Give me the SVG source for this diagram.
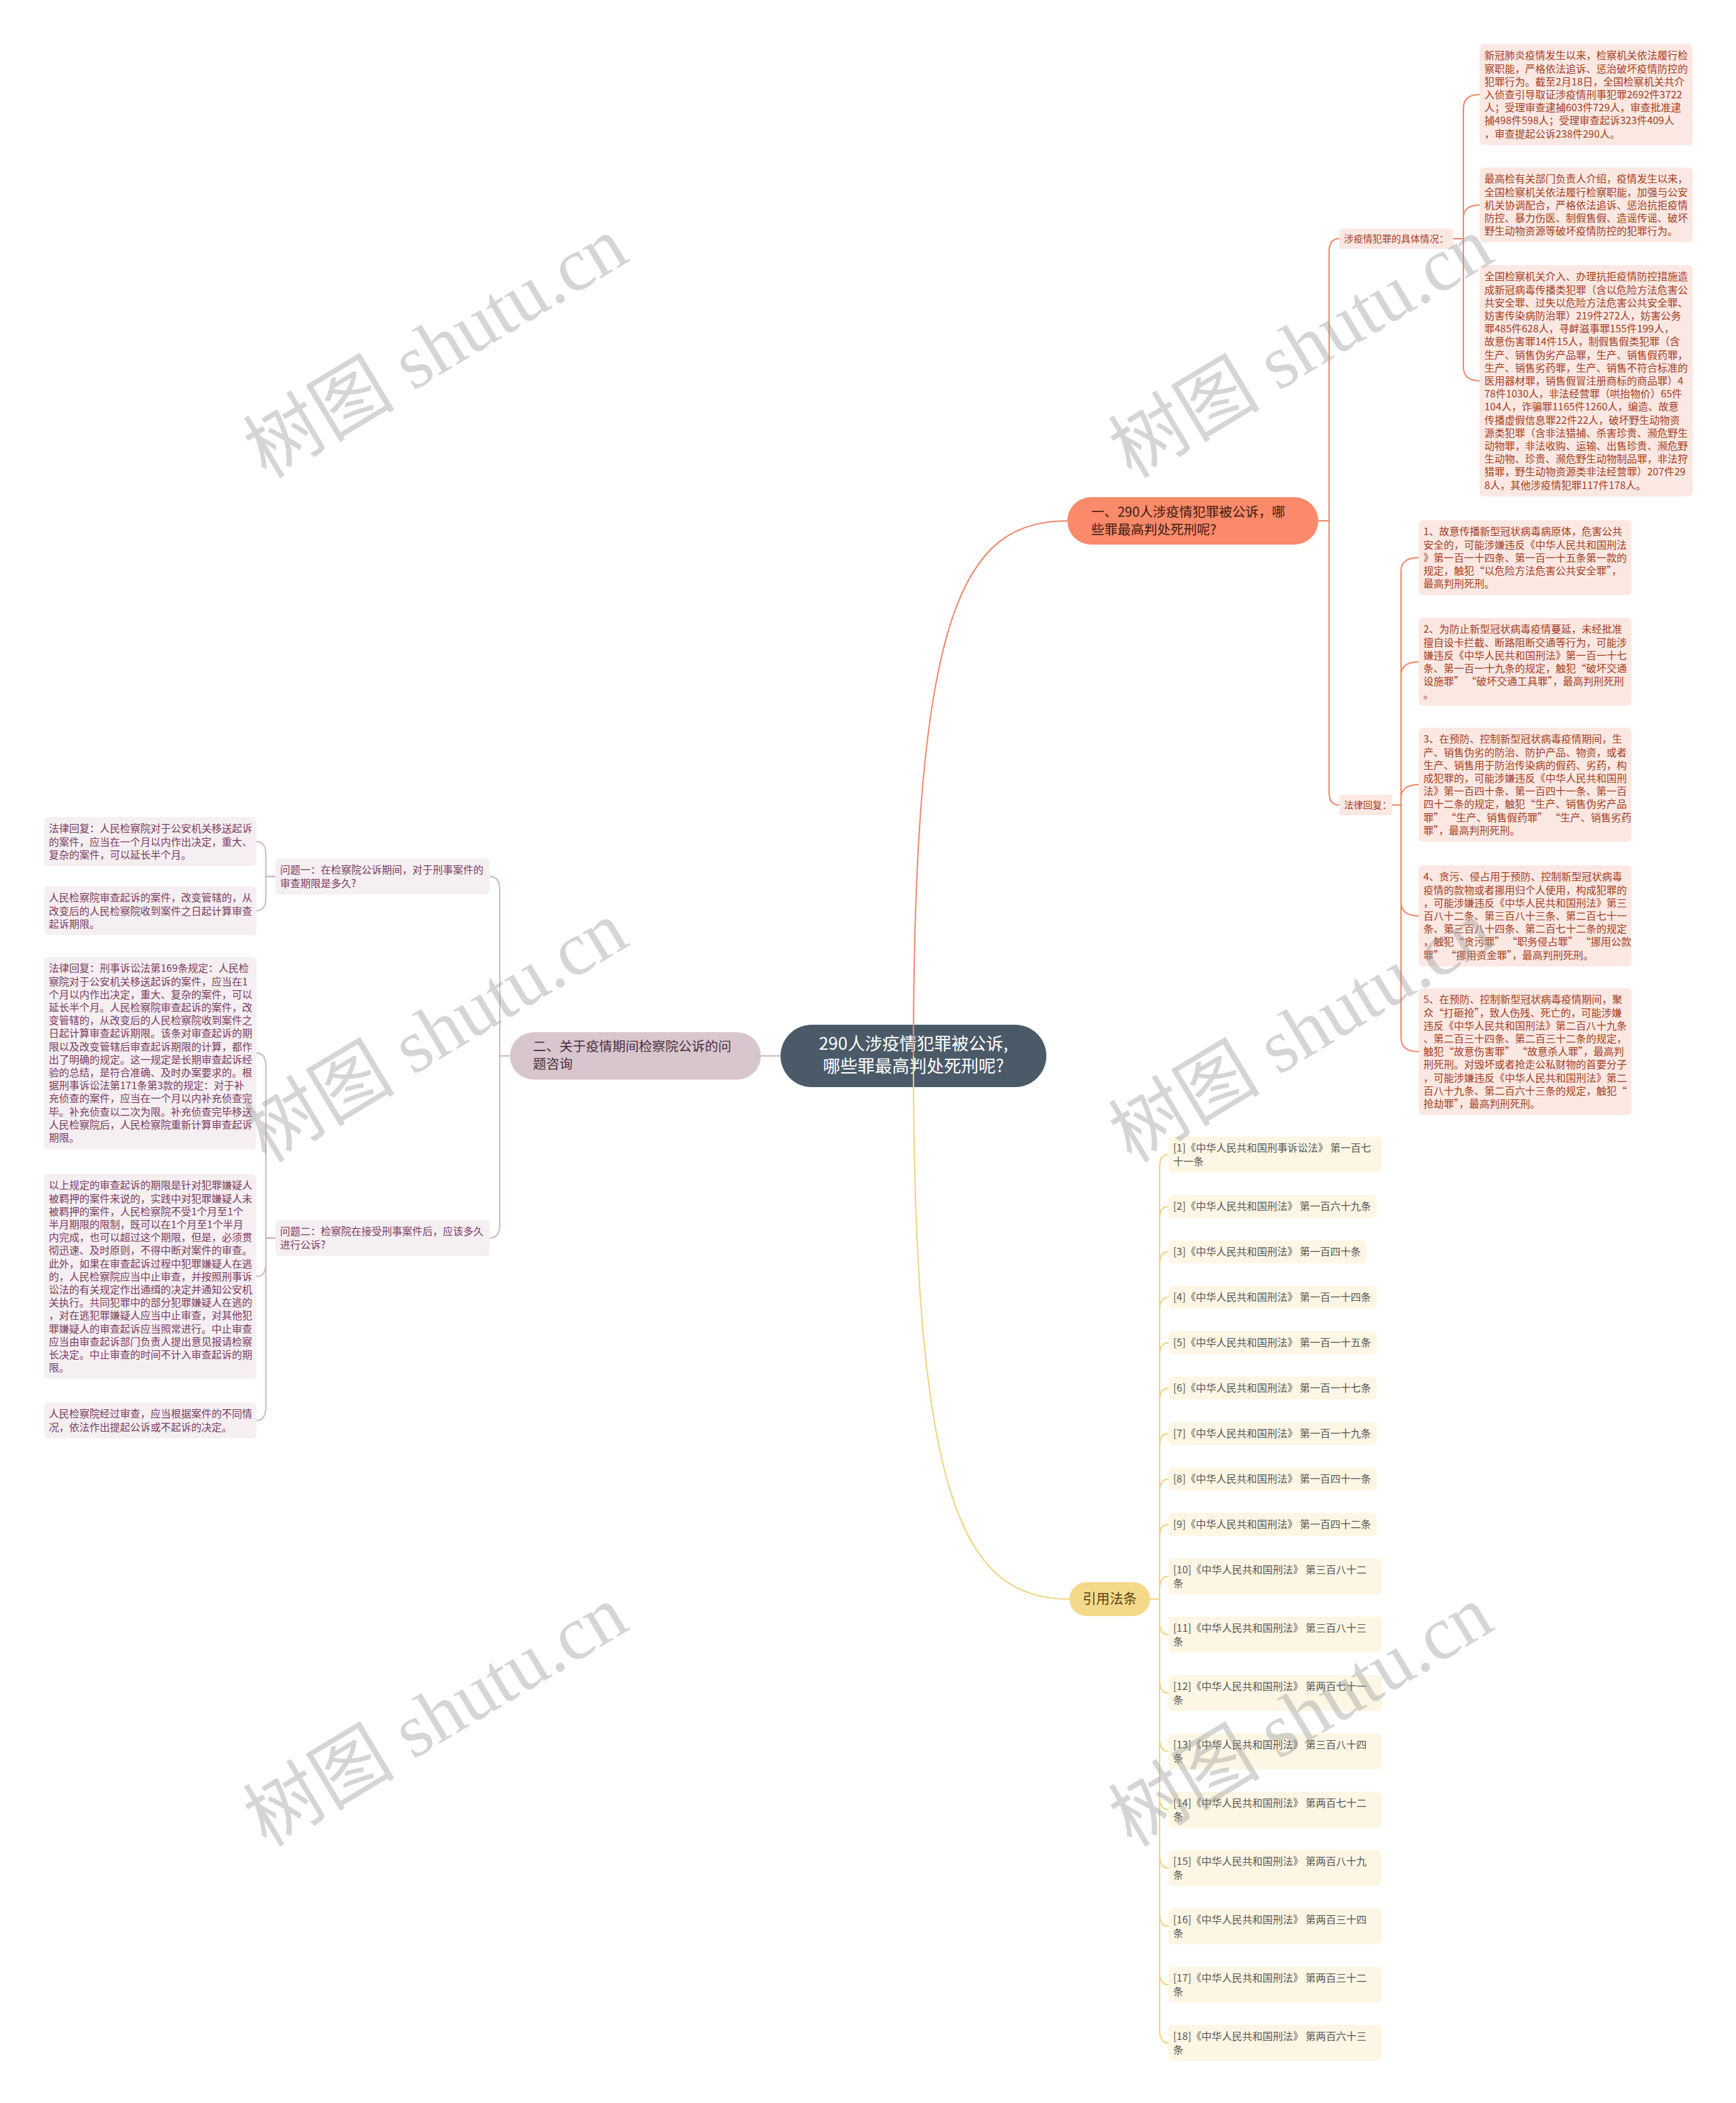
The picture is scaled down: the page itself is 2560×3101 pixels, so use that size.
<svg xmlns="http://www.w3.org/2000/svg" width="2560" height="3101" viewBox="0 0 2560 3101">
<style>
text { font-family: "Noto Sans CJK SC", "Liberation Sans", sans-serif; }
.t15 { font-size: 15px; }
.t14 { font-size: 14px; }
.rb { fill: #fce8e3; }
.rt { fill: #a33d22; }
.lb { fill: #f6eff2; }
.lt { fill: #7a3a5e; }
.yb { fill: #fdf6e4; }
.yt { fill: #555555; }
.co { fill: none; stroke: #ee8a6c; stroke-width: 2; }
.cl { fill: none; stroke: #cfbac5; stroke-width: 2; }
.cy { fill: none; stroke: #f1d47e; stroke-width: 2; }
.wm text { font-family: "Liberation Serif", "Noto Sans CJK SC", serif; font-size: 112px; fill: #9a9a9a; fill-opacity: 0.42; }
</style>
<rect width="2560" height="3101" fill="#ffffff"/>

<!-- root -->
<g id="root">
<rect x="1151" y="1511" width="392" height="92" rx="46" fill="#4b5a68"/>
<text x="1347" y="1548" font-size="25.5" fill="#ffffff" text-anchor="middle">290人涉疫情犯罪被公诉,</text>
<text x="1347" y="1581" font-size="25.5" fill="#ffffff" text-anchor="middle">哪些罪最高判处死刑呢?</text>
</g>

<!-- branch 1 -->
<g id="b1">
<rect x="1574" y="733" width="370" height="70" rx="35" fill="#fa8a6a"/>
<text x="1609" y="762" font-size="19.5" fill="#3d1a10">一、290人涉疫情犯罪被公诉，哪</text>
<text x="1609" y="788" font-size="19.5" fill="#3d1a10">些罪最高判处死刑呢?</text>
</g>
<g id="b1-label1">
<rect class="rb" x="1975" y="337" width="168" height="30" rx="4"/>
<text class="t14 rt" x="1982" y="357">涉疫情犯罪的具体情况：</text>
</g>
<g id="b1-label2">
<rect class="rb" x="1975" y="1172" width="78" height="30" rx="4"/>
<text class="t14 rt" x="1982" y="1192">法律回复：</text>
</g>
<g id="b1-a">
<rect class="rb" x="2182" y="65" width="314" height="148.9" rx="6"/>
<text class="t15 rt" y="87.3"><tspan x="2189">新冠肺炎疫情发生以来，检察机关依法履行检</tspan><tspan x="2189" dy="19.2">察职能，严格依法追诉、惩治破坏疫情防控的</tspan><tspan x="2189" dy="19.2">犯罪行为。截至2月18日，全国检察机关共介</tspan><tspan x="2189" dy="19.2">入侦查引导取证涉疫情刑事犯罪2692件3722</tspan><tspan x="2189" dy="19.2">人；受理审查逮捕603件729人，审查批准逮</tspan><tspan x="2189" dy="19.2">捕498件598人；受理审查起诉323件409人</tspan><tspan x="2189" dy="19.2">，审查提起公诉238件290人。</tspan></text>
</g>
<g id="b1-b">
<rect class="rb" x="2182" y="247" width="314" height="110.5" rx="6"/>
<text class="t15 rt" y="269.3"><tspan x="2189">最高检有关部门负责人介绍，疫情发生以来，</tspan><tspan x="2189" dy="19.2">全国检察机关依法履行检察职能，加强与公安</tspan><tspan x="2189" dy="19.2">机关协调配合，严格依法追诉、惩治抗拒疫情</tspan><tspan x="2189" dy="19.2">防控、暴力伤医、制假售假、造谣传谣、破坏</tspan><tspan x="2189" dy="19.2">野生动物资源等破坏疫情防控的犯罪行为。</tspan></text>
</g>
<g id="b1-c">
<rect class="rb" x="2182" y="391" width="314" height="340.9" rx="6"/>
<text class="t15 rt" y="413.3"><tspan x="2189">全国检察机关介入、办理抗拒疫情防控措施造</tspan><tspan x="2189" dy="19.2">成新冠病毒传播类犯罪（含以危险方法危害公</tspan><tspan x="2189" dy="19.2">共安全罪、过失以危险方法危害公共安全罪、</tspan><tspan x="2189" dy="19.2">妨害传染病防治罪）219件272人，妨害公务</tspan><tspan x="2189" dy="19.2">罪485件628人，寻衅滋事罪155件199人，</tspan><tspan x="2189" dy="19.2">故意伤害罪14件15人，制假售假类犯罪（含</tspan><tspan x="2189" dy="19.2">生产、销售伪劣产品罪，生产、销售假药罪，</tspan><tspan x="2189" dy="19.2">生产、销售劣药罪，生产、销售不符合标准的</tspan><tspan x="2189" dy="19.2">医用器材罪，销售假冒注册商标的商品罪）4</tspan><tspan x="2189" dy="19.2">78件1030人，非法经营罪（哄抬物价）65件</tspan><tspan x="2189" dy="19.2">104人，诈骗罪1165件1260人，编造、故意</tspan><tspan x="2189" dy="19.2">传播虚假信息罪22件22人，破坏野生动物资</tspan><tspan x="2189" dy="19.2">源类犯罪（含非法猎捕、杀害珍贵、濒危野生</tspan><tspan x="2189" dy="19.2">动物罪，非法收购、运输、出售珍贵、濒危野</tspan><tspan x="2189" dy="19.2">生动物、珍贵、濒危野生动物制品罪，非法狩</tspan><tspan x="2189" dy="19.2">猎罪，野生动物资源类非法经营罪）207件29</tspan><tspan x="2189" dy="19.2">8人，其他涉疫情犯罪117件178人。</tspan></text>
</g>
<g id="b1-l1">
<rect class="rb" x="2092" y="767" width="314" height="110.5" rx="6"/>
<text class="t15 rt" y="789.3"><tspan x="2099">1、故意传播新型冠状病毒病原体，危害公共</tspan><tspan x="2099" dy="19.2">安全的，可能涉嫌违反《中华人民共和国刑法</tspan><tspan x="2099" dy="19.2">》第一百一十四条、第一百一十五条第一款的</tspan><tspan x="2099" dy="19.2">规定，触犯“以危险方法危害公共安全罪”，</tspan><tspan x="2099" dy="19.2">最高判刑死刑。</tspan></text>
</g>
<g id="b1-l2">
<rect class="rb" x="2092" y="911" width="314" height="129.7" rx="6"/>
<text class="t15 rt" y="933.3"><tspan x="2099">2、为防止新型冠状病毒疫情蔓延，未经批准</tspan><tspan x="2099" dy="19.2">擅自设卡拦截、断路阻断交通等行为，可能涉</tspan><tspan x="2099" dy="19.2">嫌违反《中华人民共和国刑法》第一百一十七</tspan><tspan x="2099" dy="19.2">条、第一百一十九条的规定，触犯“破坏交通</tspan><tspan x="2099" dy="19.2">设施罪” “破坏交通工具罪”，最高判刑死刑</tspan><tspan x="2099" dy="19.2">。</tspan></text>
</g>
<g id="b1-l3">
<rect class="rb" x="2092" y="1073" width="314" height="168.1" rx="6"/>
<text class="t15 rt" y="1095.3"><tspan x="2099">3、在预防、控制新型冠状病毒疫情期间，生</tspan><tspan x="2099" dy="19.2">产、销售伪劣的防治、防护产品、物资，或者</tspan><tspan x="2099" dy="19.2">生产、销售用于防治传染病的假药、劣药，构</tspan><tspan x="2099" dy="19.2">成犯罪的，可能涉嫌违反《中华人民共和国刑</tspan><tspan x="2099" dy="19.2">法》第一百四十条、第一百四十一条、第一百</tspan><tspan x="2099" dy="19.2">四十二条的规定，触犯“生产、销售伪劣产品</tspan><tspan x="2099" dy="19.2">罪” “生产、销售假药罪” “生产、销售劣药</tspan><tspan x="2099" dy="19.2">罪”，最高判刑死刑。</tspan></text>
</g>
<g id="b1-l4">
<rect class="rb" x="2092" y="1276" width="314" height="148.9" rx="6"/>
<text class="t15 rt" y="1298.3"><tspan x="2099">4、贪污、侵占用于预防、控制新型冠状病毒</tspan><tspan x="2099" dy="19.2">疫情的款物或者挪用归个人使用，构成犯罪的</tspan><tspan x="2099" dy="19.2">，可能涉嫌违反《中华人民共和国刑法》第三</tspan><tspan x="2099" dy="19.2">百八十二条、第三百八十三条、第二百七十一</tspan><tspan x="2099" dy="19.2">条、第三百八十四条、第二百七十二条的规定</tspan><tspan x="2099" dy="19.2">，触犯“贪污罪” “职务侵占罪” “挪用公款</tspan><tspan x="2099" dy="19.2">罪” “挪用资金罪”，最高判刑死刑。</tspan></text>
</g>
<g id="b1-l5">
<rect class="rb" x="2092" y="1457" width="314" height="187.3" rx="6"/>
<text class="t15 rt" y="1479.3"><tspan x="2099">5、在预防、控制新型冠状病毒疫情期间，聚</tspan><tspan x="2099" dy="19.2">众“打砸抢”，致人伤残、死亡的，可能涉嫌</tspan><tspan x="2099" dy="19.2">违反《中华人民共和国刑法》第二百八十九条</tspan><tspan x="2099" dy="19.2">、第二百三十四条、第二百三十二条的规定，</tspan><tspan x="2099" dy="19.2">触犯“故意伤害罪” “故意杀人罪”，最高判</tspan><tspan x="2099" dy="19.2">刑死刑。对毁坏或者抢走公私财物的首要分子</tspan><tspan x="2099" dy="19.2">，可能涉嫌违反《中华人民共和国刑法》第二</tspan><tspan x="2099" dy="19.2">百八十九条、第二百六十三条的规定，触犯“</tspan><tspan x="2099" dy="19.2">抢劫罪”，最高判刑死刑。</tspan></text>
</g>

<!-- branch 2 -->
<g id="b2">
<rect x="752" y="1522" width="370" height="70" rx="35" fill="#d8c6cf"/>
<text x="786" y="1550" font-size="19.5" fill="#4a2f3e">二、关于疫情期间检察院公诉的问</text>
<text x="786" y="1576" font-size="19.5" fill="#4a2f3e">题咨询</text>
</g>
<g id="b2-q1">
<rect class="lb" x="406" y="1266" width="316" height="52.9" rx="6"/>
<text class="t15 lt" y="1288.3"><tspan x="413">问题一：在检察院公诉期间，对于刑事案件的</tspan><tspan x="413" dy="19.2">审查期限是多久?</tspan></text>
</g>
<g id="b2-q2">
<rect class="lb" x="406" y="1799" width="316" height="52.9" rx="6"/>
<text class="t15 lt" y="1821.3"><tspan x="413">问题二：检察院在接受刑事案件后，应该多久</tspan><tspan x="413" dy="19.2">进行公诉?</tspan></text>
</g>
<g id="b2-a1">
<rect class="lb" x="65" y="1205" width="313" height="72.1" rx="6"/>
<text class="t15 lt" y="1227.3"><tspan x="72">法律回复：人民检察院对于公安机关移送起诉</tspan><tspan x="72" dy="19.2">的案件，应当在一个月以内作出决定，重大、</tspan><tspan x="72" dy="19.2">复杂的案件，可以延长半个月。</tspan></text>
</g>
<g id="b2-a2">
<rect class="lb" x="65" y="1307" width="313" height="72.1" rx="6"/>
<text class="t15 lt" y="1329.3"><tspan x="72">人民检察院审查起诉的案件，改变管辖的，从</tspan><tspan x="72" dy="19.2">改变后的人民检察院收到案件之日起计算审查</tspan><tspan x="72" dy="19.2">起诉期限。</tspan></text>
</g>
<g id="b2-a3">
<rect class="lb" x="65" y="1411" width="313" height="283.3" rx="6"/>
<text class="t15 lt" y="1433.3"><tspan x="72">法律回复：刑事诉讼法第169条规定：人民检</tspan><tspan x="72" dy="19.2">察院对于公安机关移送起诉的案件，应当在1</tspan><tspan x="72" dy="19.2">个月以内作出决定，重大、复杂的案件，可以</tspan><tspan x="72" dy="19.2">延长半个月。人民检察院审查起诉的案件，改</tspan><tspan x="72" dy="19.2">变管辖的，从改变后的人民检察院收到案件之</tspan><tspan x="72" dy="19.2">日起计算审查起诉期限。该条对审查起诉的期</tspan><tspan x="72" dy="19.2">限以及改变管辖后审查起诉期限的计算，都作</tspan><tspan x="72" dy="19.2">出了明确的规定。这一规定是长期审查起诉经</tspan><tspan x="72" dy="19.2">验的总结，是符合准确、及时办案要求的。根</tspan><tspan x="72" dy="19.2">据刑事诉讼法第171条第3款的规定：对于补</tspan><tspan x="72" dy="19.2">充侦查的案件，应当在一个月以内补充侦查完</tspan><tspan x="72" dy="19.2">毕。补充侦查以二次为限。补充侦查完毕移送</tspan><tspan x="72" dy="19.2">人民检察院后，人民检察院重新计算审查起诉</tspan><tspan x="72" dy="19.2">期限。</tspan></text>
</g>
<g id="b2-a4">
<rect class="lb" x="65" y="1731" width="313" height="302.5" rx="6"/>
<text class="t15 lt" y="1753.3"><tspan x="72">以上规定的审查起诉的期限是针对犯罪嫌疑人</tspan><tspan x="72" dy="19.2">被羁押的案件来说的，实践中对犯罪嫌疑人未</tspan><tspan x="72" dy="19.2">被羁押的案件，人民检察院不受1个月至1个</tspan><tspan x="72" dy="19.2">半月期限的限制，既可以在1个月至1个半月</tspan><tspan x="72" dy="19.2">内完成，也可以超过这个期限，但是，必须贯</tspan><tspan x="72" dy="19.2">彻迅速、及时原则，不得中断对案件的审查。</tspan><tspan x="72" dy="19.2">此外，如果在审查起诉过程中犯罪嫌疑人在逃</tspan><tspan x="72" dy="19.2">的，人民检察院应当中止审查，并按照刑事诉</tspan><tspan x="72" dy="19.2">讼法的有关规定作出通缉的决定并通知公安机</tspan><tspan x="72" dy="19.2">关执行。共同犯罪中的部分犯罪嫌疑人在逃的</tspan><tspan x="72" dy="19.2">，对在逃犯罪嫌疑人应当中止审查，对其他犯</tspan><tspan x="72" dy="19.2">罪嫌疑人的审查起诉应当照常进行。中止审查</tspan><tspan x="72" dy="19.2">应当由审查起诉部门负责人提出意见报请检察</tspan><tspan x="72" dy="19.2">长决定。中止审查的时间不计入审查起诉的期</tspan><tspan x="72" dy="19.2">限。</tspan></text>
</g>
<g id="b2-a5">
<rect class="lb" x="65" y="2068" width="313" height="52.9" rx="6"/>
<text class="t15 lt" y="2090.3"><tspan x="72">人民检察院经过审查，应当根据案件的不同情</tspan><tspan x="72" dy="19.2">况，依法作出提起公诉或不起诉的决定。</tspan></text>
</g>

<!-- branch 3 -->
<g id="b3">
<rect x="1577" y="2333" width="119" height="50" rx="25" fill="#f5d98a"/>
<text x="1636.5" y="2365" font-size="20" fill="#5a4512" text-anchor="middle">引用法条</text>
</g>
<g id="refs" class="t15 yt">
<g id="r1"><rect class="yb" x="1723" y="1676" width="315" height="52.9" rx="6"/><text y="1698.3"><tspan x="1730">[1]《中华人民共和国刑事诉讼法》 第一百七</tspan><tspan x="1730" dy="19.2">十一条</tspan></text></g>
<g id="r2"><rect class="yb" x="1723" y="1762" width="307" height="33.7" rx="6"/><text x="1730" y="1784.3">[2]《中华人民共和国刑法》 第一百六十九条</text></g>
<g id="r3"><rect class="yb" x="1723" y="1829" width="292" height="33.7" rx="6"/><text x="1730" y="1851.3">[3]《中华人民共和国刑法》 第一百四十条</text></g>
<g id="r4"><rect class="yb" x="1723" y="1896" width="307" height="33.7" rx="6"/><text x="1730" y="1918.3">[4]《中华人民共和国刑法》 第一百一十四条</text></g>
<g id="r5"><rect class="yb" x="1723" y="1963" width="307" height="33.7" rx="6"/><text x="1730" y="1985.3">[5]《中华人民共和国刑法》 第一百一十五条</text></g>
<g id="r6"><rect class="yb" x="1723" y="2030" width="307" height="33.7" rx="6"/><text x="1730" y="2052.3">[6]《中华人民共和国刑法》 第一百一十七条</text></g>
<g id="r7"><rect class="yb" x="1723" y="2097" width="307" height="33.7" rx="6"/><text x="1730" y="2119.3">[7]《中华人民共和国刑法》 第一百一十九条</text></g>
<g id="r8"><rect class="yb" x="1723" y="2164" width="307" height="33.7" rx="6"/><text x="1730" y="2186.3">[8]《中华人民共和国刑法》 第一百四十一条</text></g>
<g id="r9"><rect class="yb" x="1723" y="2231" width="307" height="33.7" rx="6"/><text x="1730" y="2253.3">[9]《中华人民共和国刑法》 第一百四十二条</text></g>
<g id="r10"><rect class="yb" x="1723" y="2298" width="315" height="52.9" rx="6"/><text y="2320.3"><tspan x="1730">[10]《中华人民共和国刑法》 第三百八十二</tspan><tspan x="1730" dy="19.2">条</tspan></text></g>
<g id="r11"><rect class="yb" x="1723" y="2384" width="315" height="52.9" rx="6"/><text y="2406.3"><tspan x="1730">[11]《中华人民共和国刑法》 第三百八十三</tspan><tspan x="1730" dy="19.2">条</tspan></text></g>
<g id="r12"><rect class="yb" x="1723" y="2470" width="315" height="52.9" rx="6"/><text y="2492.3"><tspan x="1730">[12]《中华人民共和国刑法》 第两百七十一</tspan><tspan x="1730" dy="19.2">条</tspan></text></g>
<g id="r13"><rect class="yb" x="1723" y="2556" width="315" height="52.9" rx="6"/><text y="2578.3"><tspan x="1730">[13]《中华人民共和国刑法》 第三百八十四</tspan><tspan x="1730" dy="19.2">条</tspan></text></g>
<g id="r14"><rect class="yb" x="1723" y="2642" width="315" height="52.9" rx="6"/><text y="2664.3"><tspan x="1730">[14]《中华人民共和国刑法》 第两百七十二</tspan><tspan x="1730" dy="19.2">条</tspan></text></g>
<g id="r15"><rect class="yb" x="1723" y="2728" width="315" height="52.9" rx="6"/><text y="2750.3"><tspan x="1730">[15]《中华人民共和国刑法》 第两百八十九</tspan><tspan x="1730" dy="19.2">条</tspan></text></g>
<g id="r16"><rect class="yb" x="1723" y="2814" width="315" height="52.9" rx="6"/><text y="2836.3"><tspan x="1730">[16]《中华人民共和国刑法》 第两百三十四</tspan><tspan x="1730" dy="19.2">条</tspan></text></g>
<g id="r17"><rect class="yb" x="1723" y="2900" width="315" height="52.9" rx="6"/><text y="2922.3"><tspan x="1730">[17]《中华人民共和国刑法》 第两百三十二</tspan><tspan x="1730" dy="19.2">条</tspan></text></g>
<g id="r18"><rect class="yb" x="1723" y="2986" width="315" height="52.9" rx="6"/><text y="3008.3"><tspan x="1730">[18]《中华人民共和国刑法》 第两百六十三</tspan><tspan x="1730" dy="19.2">条</tspan></text></g>
</g>

<!-- connectors -->
<g id="connectors">
<path class="co" d="M1347,1557 C1347,900 1420,768 1574,768"/>
<path class="cy" d="M1347,1557 C1347,2214 1420,2358 1577,2358"/>
<path class="cl" d="M1151,1557 H1122"/>
<path class="co" d="M1944,768 H1960 V370 Q1960,352 1975,352"/>
<path class="co" d="M1944,768 H1960 V1169 Q1960,1187 1975,1187"/>
<path class="co" d="M2143,352 H2158 V160 Q2158,139.5 2182,139.5"/>
<path class="co" d="M2143,352 H2158 V322 Q2158,302.3 2182,302.3"/>
<path class="co" d="M2143,352 H2158 V541 Q2158,561.5 2182,561.5"/>
<path class="co" d="M2053,1187 H2066 V842 Q2066,822.3 2092,822.3"/>
<path class="co" d="M2053,1187 H2066 V996 Q2066,975.9 2092,975.9"/>
<path class="co" d="M2053,1187 H2066 V1177 Q2066,1157.1 2092,1157.1"/>
<path class="co" d="M2053,1187 H2066 V1330 Q2066,1350.5 2092,1350.5"/>
<path class="co" d="M2053,1187 H2066 V1530 Q2066,1550.7 2092,1550.7"/>
<path class="cl" d="M752,1557 H737 V1312 Q737,1292.5 722,1292.5"/>
<path class="cl" d="M752,1557 H737 V1806 Q737,1825.5 722,1825.5"/>
<path class="cl" d="M406,1292.5 H392 V1260 Q392,1241 378,1241"/>
<path class="cl" d="M406,1292.5 H392 V1324 Q392,1343 378,1343"/>
<path class="cl" d="M406,1825.5 H392 V1572 Q392,1552.7 378,1552.7"/>
<path class="cl" d="M406,1825.5 H392 V1863 Q392,1882.3 378,1882.3"/>
<path class="cl" d="M406,1825.5 H392 V2075 Q392,2094.5 378,2094.5"/>
<path class="cy" d="M1696,2358 H1710 V1722 Q1710,1702.5 1723,1702.5"/>
<path class="cy" d="M1696,2358 H1710 V1798 Q1710,1778.9 1723,1778.9"/>
<path class="cy" d="M1696,2358 H1710 V1865 Q1710,1845.9 1723,1845.9"/>
<path class="cy" d="M1696,2358 H1710 V1932 Q1710,1912.9 1723,1912.9"/>
<path class="cy" d="M1696,2358 H1710 V1999 Q1710,1979.9 1723,1979.9"/>
<path class="cy" d="M1696,2358 H1710 V2066 Q1710,2046.9 1723,2046.9"/>
<path class="cy" d="M1696,2358 H1710 V2133 Q1710,2113.9 1723,2113.9"/>
<path class="cy" d="M1696,2358 H1710 V2200 Q1710,2180.9 1723,2180.9"/>
<path class="cy" d="M1696,2358 H1710 V2267 Q1710,2247.9 1723,2247.9"/>
<path class="cy" d="M1696,2358 H1710 V2344 Q1710,2324.5 1723,2324.5"/>
<path class="cy" d="M1696,2358 H1710 V2391 Q1710,2410.5 1723,2410.5"/>
<path class="cy" d="M1696,2358 H1710 V2477 Q1710,2496.5 1723,2496.5"/>
<path class="cy" d="M1696,2358 H1710 V2563 Q1710,2582.5 1723,2582.5"/>
<path class="cy" d="M1696,2358 H1710 V2649 Q1710,2668.5 1723,2668.5"/>
<path class="cy" d="M1696,2358 H1710 V2735 Q1710,2754.5 1723,2754.5"/>
<path class="cy" d="M1696,2358 H1710 V2821 Q1710,2840.5 1723,2840.5"/>
<path class="cy" d="M1696,2358 H1710 V2907 Q1710,2926.5 1723,2926.5"/>
<path class="cy" d="M1696,2358 H1710 V2993 Q1710,3012.5 1723,3012.5"/>
</g>

<!-- watermarks -->
<g id="watermarks" class="wm">
<text text-anchor="middle" transform="translate(662,545) rotate(-31)">树图 shutu.cn</text>
<text text-anchor="middle" transform="translate(1938,545) rotate(-31)">树图 shutu.cn</text>
<text text-anchor="middle" transform="translate(662,1554) rotate(-31)">树图 shutu.cn</text>
<text text-anchor="middle" transform="translate(1938,1554) rotate(-31)">树图 shutu.cn</text>
<text text-anchor="middle" transform="translate(662,2563) rotate(-31)">树图 shutu.cn</text>
<text text-anchor="middle" transform="translate(1938,2563) rotate(-31)">树图 shutu.cn</text>
</g>
</svg>
